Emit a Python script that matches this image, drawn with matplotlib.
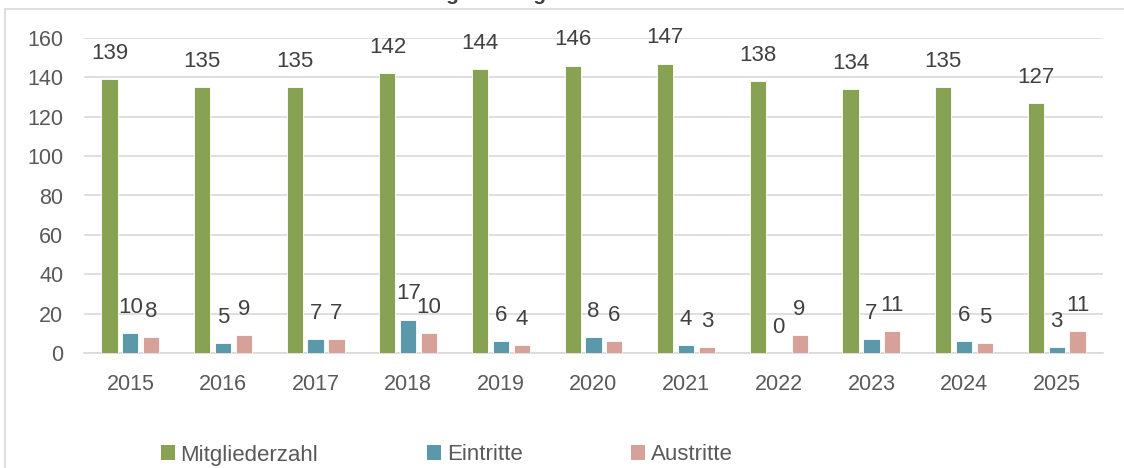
import matplotlib
matplotlib.use("Agg")
import matplotlib.pyplot as plt
import numpy as np
from matplotlib.patches import Rectangle, Patch

# data
years = ["2015", "2016", "2017", "2018", "2019", "2020", "2021", "2022", "2023", "2024", "2025"]
mitglieder = [139, 135, 135, 142, 144, 146, 147, 138, 134, 135, 127]
eintritte = [10, 5, 7, 17, 6, 8, 4, 0, 7, 6, 3]
austritte = [8, 9, 7, 10, 4, 6, 3, 9, 11, 5, 11]

series_names = ["Mitgliederzahl", "Eintritte", "Austritte"]
colors = ["#88a254", "#5b98aa", "#d6a199"]

plt.rcParams["font.family"] = ["Liberation Sans", "DejaVu Sans"]
text_col = "#595959"

W, H = 1124, 468
fig = plt.figure(figsize=(W / 100, H / 100), dpi=100)
fig.patch.set_facecolor("white")

# outer chart frame (runs off the right/bottom edge)
fig.add_artist(Rectangle((5 / W, -0.1), 1.2, 1 - 9 / H + 0.1, transform=fig.transFigure,
                         fill=False, edgecolor="#d9d9d9", linewidth=1.2))

# title, mostly cut off at the top edge like in the source
fig.text(0.435, 1.0, "Entwicklung der Mitgliederzahl", ha="center", va="baseline",
         fontsize=15, fontweight="bold", color="#404040")

ax = fig.add_axes([84 / W, 1 - 353 / H, (1103 - 84) / W, (353 - 38) / H])
x = np.arange(len(years))
bw = 0.175
step = 0.225
data = [mitglieder, eintritte, austritte]
for i, (vals, col) in enumerate(zip(data, colors)):
    bars = ax.bar(x + (i - 1) * step, vals, width=bw, color=col, edgecolor="white",
                  linewidth=0.6, zorder=3, label=series_names[i])
    for b, v in zip(bars, vals):
        ax.annotate(str(v), (b.get_x() + b.get_width() / 2, v), xytext=(0, 11),
                    textcoords="offset points", ha="center", va="bottom",
                    fontsize=16, color="#404040", zorder=4)

ax.set_xlim(-0.5, len(years) - 0.5)
ax.set_ylim(0, 160)
ax.set_yticks(range(0, 161, 20))
ax.set_xticks(x)
ax.set_xticklabels(years)
ax.grid(axis="y", color="#d9d9d9", linewidth=1.2, zorder=0)
ax.set_axisbelow(True)
for s in ["top", "right", "left"]:
    ax.spines[s].set_visible(False)
ax.spines["bottom"].set_color("#d9d9d9")
ax.spines["bottom"].set_linewidth(1.2)
ax.tick_params(axis="both", length=0, labelsize=15.5, colors=text_col)
ax.tick_params(axis="x", pad=15)
ax.tick_params(axis="y", pad=15)

handles = [Patch(facecolor=c) for c in colors]
fig.legend(handles, series_names, loc="center left", bbox_to_anchor=(141 / W, 1 - 455 / H),
           ncol=3, frameon=False, fontsize=16, handlelength=0.63, handleheight=0.63,
           handletextpad=0.25, columnspacing=4.9, labelcolor=text_col)

fig.savefig("out.png", dpi=100, facecolor="white")
